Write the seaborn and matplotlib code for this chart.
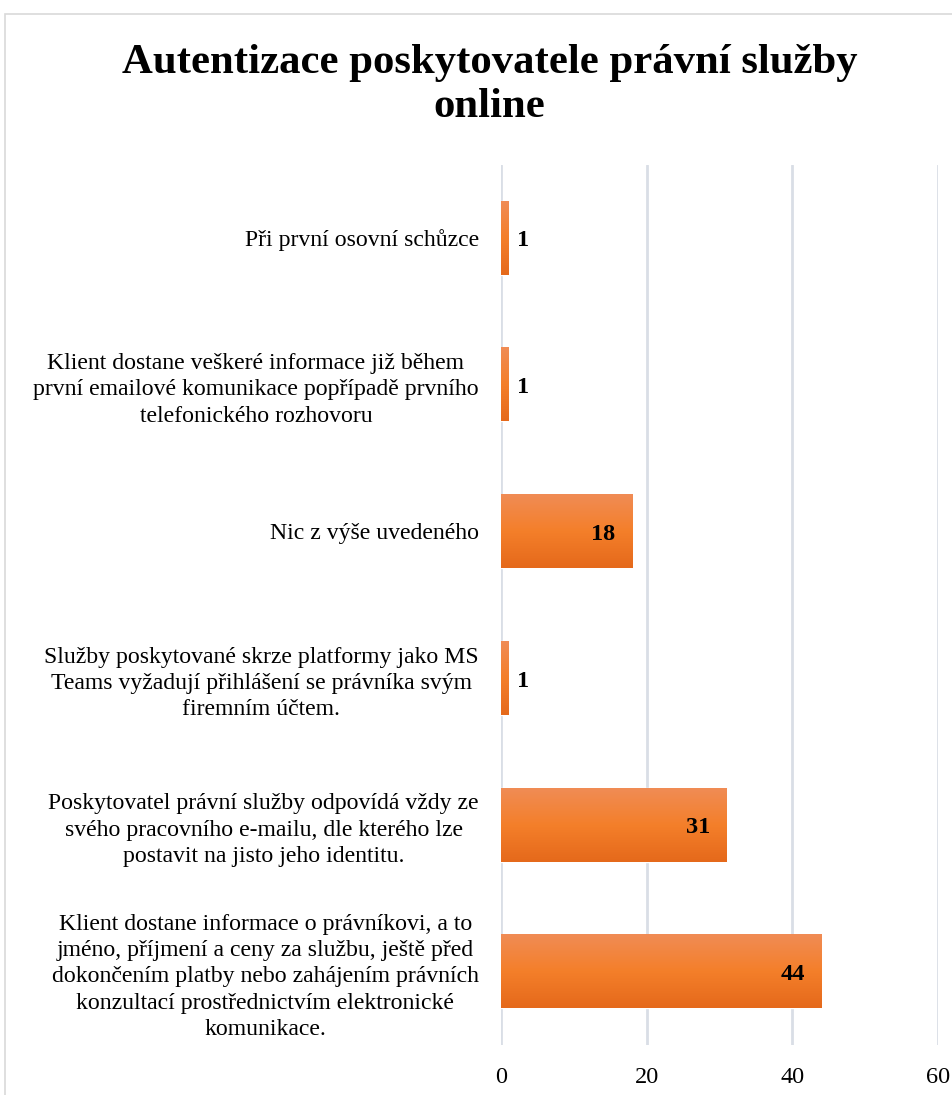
import numpy as np
import pandas as pd
import matplotlib
matplotlib.use("Agg")
import matplotlib.pyplot as plt
from matplotlib.colors import LinearSegmentedColormap
from matplotlib.patches import Rectangle
import seaborn as sns

# Survey answers and their counts (top to bottom)
categories = [
    "Při první osovní schůzce",
    "Klient dostane veškeré informace již během\nprvní emailové komunikace popřípadě prvního\ntelefonického rozhovoru",
    "Nic z výše uvedeného",
    "Služby poskytované skrze platformy jako MS\nTeams vyžadují přihlášení se právníka svým\nfiremním účtem.",
    "Poskytovatel právní služby odpovídá vždy ze\nsvého pracovního e-mailu, dle kterého lze\npostavit na jisto jeho identitu.",
    "Klient dostane informace o právníkovi, a to\njméno, příjmení a ceny za službu, ještě před\ndokončením platby nebo zahájením právních\nkonzultací prostřednictvím elektronické\nkomunikace.",
]
counts = [1, 1, 18, 1, 31, 44]
x_ticks = [0, 20, 40, 60]
title = "Autentizace poskytovatele právní služby\nonline"

sns.set_style("white")
plt.rcParams["font.family"] = ["Liberation Serif", "DejaVu Serif"]
plt.rcParams["text.color"] = "black"
plt.rcParams["xtick.color"] = "black"
plt.rcParams["ytick.color"] = "black"

W, H, DPI = 952, 1095, 100
fig = plt.figure(figsize=(W / DPI, H / DPI), dpi=DPI)
fig.patch.set_facecolor("white")

ax = fig.add_axes([501 / W, 1 - 1045 / H, (938 - 501) / W, (1045 - 164.6) / H])

df = pd.DataFrame({"answer": categories, "count": counts})
sns.barplot(data=df, y="answer", x="count", orient="h", color="#F47F2A",
            width=0.5, ax=ax, saturation=1)

ax.set_xlim(0, 60)
ax.set_ylim(len(categories) - 0.5, -0.5)

# vertical gradient on each bar
grad_cmap = LinearSegmentedColormap.from_list(
    "bar_grad", ["#F08C55", "#F47F2A", "#E5691B"])
grad = np.linspace(0, 1, 256).reshape(-1, 1)
for patch in ax.patches:
    x0, y0 = patch.get_x(), patch.get_y()
    w, h = patch.get_width(), patch.get_height()
    ax.imshow(grad, cmap=grad_cmap, aspect="auto",
              extent=(x0, x0 + w, y0 + h, y0), zorder=patch.get_zorder() + 0.1,
              interpolation="bicubic")
ax.set_xlim(0, 60)
ax.set_ylim(len(categories) - 0.5, -0.5)

# value labels: inside end for wide bars, outside for narrow ones
for i, v in enumerate(counts):
    if v >= 10:
        ax.text(v - 2.3, i + 0.02, str(v), ha="right", va="center",
                fontsize=17.5, fontweight="bold", color="black", zorder=5)
    else:
        ax.text(v + 1.2, i + 0.02, str(v), ha="left", va="center",
                fontsize=17.5, fontweight="bold", color="black", zorder=5)

ax.set_xticks(x_ticks)
ax.set_xticklabels([str(t) for t in x_ticks], fontsize=17.5)
ax.set_yticks(range(len(categories)))
ax.set_yticklabels(categories, fontsize=17.1, linespacing=1.33)
for lbl in ax.get_yticklabels():
    lbl.set_multialignment("center")
ax.tick_params(axis="both", length=0)
ax.tick_params(axis="y", pad=16)
ax.tick_params(axis="x", pad=16)
ax.set_xlabel("")
ax.set_ylabel("")

ax.grid(axis="x", color="#D9DEE6", linewidth=2)
ax.grid(axis="y", visible=False)
ax.set_axisbelow(True)
for s in ax.spines.values():
    s.set_visible(False)

fig.text(489.5 / W, 1 - 85 / H, title, ha="center", va="center",
         fontsize=30.8, fontweight="bold", linespacing=1.18, color="black")

# chart area border
fig.patches.append(Rectangle((5 / W, -0.1), 1.2, 1 - 14 / H + 0.1,
                             transform=fig.transFigure, fill=False,
                             edgecolor="#D9D9D9", linewidth=1.2))

fig.savefig("out.png", dpi=DPI, facecolor="white")
